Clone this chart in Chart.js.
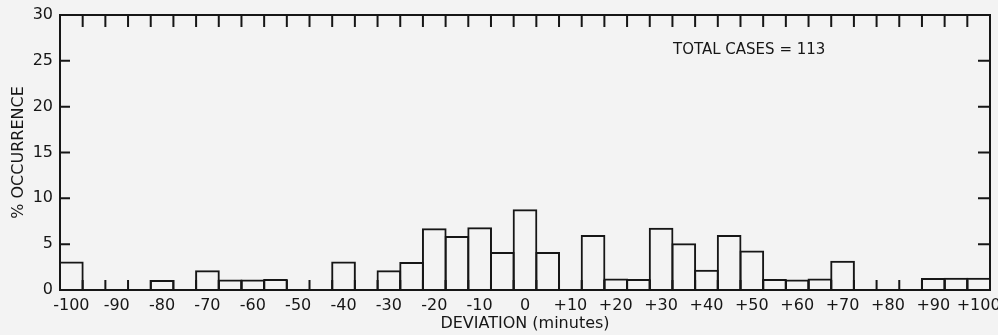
<!DOCTYPE html>
<html>
<head>
<meta charset="utf-8">
<script src="https://cdn.jsdelivr.net/npm/chart.js@4/dist/chart.umd.min.js"></script>
<style>
  html, body { margin: 0; padding: 0; background: #f3f3f3; }
  #wrap { width: 998px; height: 335px; position: relative; }
</style>
</head>
<body>
<div id="wrap"><canvas id="histChart"></canvas></div>
<script>
// bin centres, minutes
const deviationBins = [
    -100, -95, -90, -85, -80, -75, -70, -65, -60, -55,
    -50, -45, -40, -35, -30, -25, -20, -15, -10, -5,
    0, 5, 10, 15, 20, 25, 30, 35, 40, 45,
    50, 55, 60, 65, 70, 75, 80, 85, 90, 95, 100
];
// % occurrence per bin
const occurrence = [
    3.1, 0, 0, 0, 1.1, 0, 2.15, 1.15, 1.15, 1.2,
    0, 0, 3.1, 0, 2.15, 3.05, 6.75, 5.9, 6.85, 4.15,
    8.8, 4.15, 0, 6.0, 1.25, 1.2, 6.8, 5.1, 2.2, 6.0,
    4.3, 1.2, 1.15, 1.25, 3.2, 0, 0, 0, 1.3, 1.35, 1.35
];
const xTickLabels = [
    '-100', '-90', '-80', '-70', '-60', '-50', '-40', '-30', '-20', '-10', '0',
    '+10', '+20', '+30', '+40', '+50', '+60', '+70', '+80', '+90', '+100'
];
const yTicks = [0, 5, 10, 15, 20, 25, 30];
const totalCases = 113;

const INK = '#161616';
const FONT = 'DejaVu Sans';

// frame + inward tick marks, like the hand-drawn original
const framePlugin = {
    id: 'frame',
    afterDatasetsDraw(chart) {
        const { ctx, chartArea: a, scales: { x, y } } = chart;
        ctx.save();
        ctx.strokeStyle = INK;
        ctx.lineWidth = 2;
        ctx.strokeRect(a.left, a.top, a.right - a.left, a.bottom - a.top);

        ctx.beginPath();
        for (let i = 0; i < deviationBins.length - 1; i++) {
            const bx = (x.getPixelForValue(i) + x.getPixelForValue(i + 1)) / 2;
            ctx.moveTo(bx, a.top);
            ctx.lineTo(bx, a.top + 12);
            ctx.moveTo(bx, a.bottom);
            ctx.lineTo(bx, a.bottom - 10);
        }
        yTicks.slice(1, -1).forEach(v => {
            const py = y.getPixelForValue(v);
            ctx.moveTo(a.left, py);
            ctx.lineTo(a.left + 10, py);
            ctx.moveTo(a.right, py);
            ctx.lineTo(a.right - 12, py);
        });
        ctx.stroke();

        // annotation
        ctx.fillStyle = INK;
        ctx.font = '15px "' + FONT + '"';
        ctx.textBaseline = 'middle';
        ctx.textAlign = 'left';
        ctx.fillText('TOTAL CASES = ' + totalCases, 673, 50);
        ctx.restore();
    }
};

const binWidth = 930 / deviationBins.length;

new Chart(document.getElementById('histChart'), {
    type: 'bar',
    data: {
        labels: deviationBins,
        datasets: [{
            data: occurrence,
            backgroundColor: 'rgba(0,0,0,0)',
            borderColor: INK,
            borderWidth: 2,
            borderSkipped: 'bottom',
            inflateAmount: 0,
            barPercentage: (binWidth + 2) / binWidth,
            categoryPercentage: 1
        }]
    },
    options: {
        responsive: true,
        maintainAspectRatio: false,
        animation: false,
        layout: { padding: { top: 15, right: 8, left: 0, bottom: 0 } },
        plugins: {
            legend: { display: false },
            tooltip: { enabled: false }
        },
        scales: {
            x: {
                grid: { display: false, drawTicks: false },
                border: { display: false },
                ticks: {
                    autoSkip: false,
                    maxRotation: 0,
                    padding: 6,
                    color: INK,
                    font: { family: FONT, size: 16 },
                    callback: (val, idx) => (idx % 2 === 0 ? xTickLabels[idx / 2] : '')
                },
                title: {
                    display: true,
                    text: 'DEVIATION (minutes)',
                    color: INK,
                    font: { family: FONT, size: 16 },
                    padding: { top: 0, bottom: 2 }
                },
                afterFit: (scale) => {
                    scale.height = 45;
                    scale.paddingLeft = 0;
                    scale.paddingRight = 0;
                }
            },
            y: {
                min: 0,
                max: 30,
                grid: { display: false, drawTicks: false },
                border: { display: false },
                ticks: {
                    stepSize: 5,
                    padding: 7,
                    color: INK,
                    font: { family: FONT, size: 16 }
                },
                title: {
                    display: true,
                    text: '% OCCURRENCE',
                    color: INK,
                    font: { family: FONT, size: 16 },
                    padding: { top: 9, bottom: 0 }
                },
                afterFit: (scale) => {
                    scale.width = 60;
                    scale.paddingTop = 0;
                    scale.paddingBottom = 0;
                }
            }
        }
    },
    plugins: [framePlugin]
});
</script>
</body>
</html>
